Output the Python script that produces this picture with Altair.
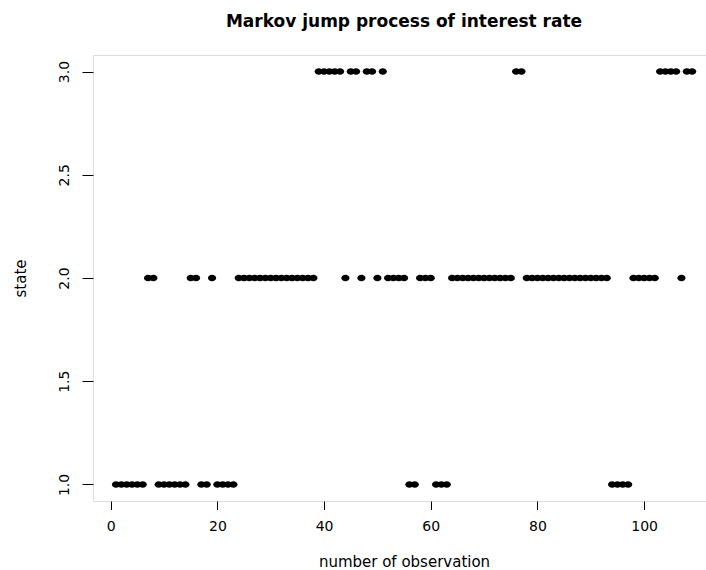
import altair as alt
import pandas as pd

# state sequence (observation 1..109), as runs
runs_state = [1, 2, 1, 2, 1, 2, 1, 2, 3, 2, 3, 2, 3, 2, 3, 2, 1, 2, 1, 2, 3, 2, 1, 2, 3, 2, 3]
runs_length = [6, 2, 6, 2, 2, 1, 4, 15, 5, 1, 2, 1, 2, 1, 1, 4, 2, 3, 3, 12, 2, 16, 4, 5, 4, 1, 2]

states = []
for s, n in zip(runs_state, runs_length):
    states.extend([s] * n)
observation = list(range(1, len(states) + 1))

x_ticks = [0, 20, 40, 60, 80, 100]
y_ticks = [1.0, 1.5, 2.0, 2.5, 3.0]

df = pd.DataFrame({"obs": observation, "state": states})

FONT = "DejaVu Sans"
DOT = "M -1 0 A 1 0.79 0 1 0 1 0 A 1 0.79 0 1 0 -1 0 Z"

chart = (
    alt.Chart(df)
    .mark_point(shape=DOT, filled=True, color="black", opacity=1, size=68, strokeWidth=0)
    .encode(
        x=alt.X(
            "obs:Q",
            scale=alt.Scale(domain=[-3.32, 111.6], nice=False, zero=False),
            axis=alt.Axis(
                values=x_ticks,
                title="number of observation",
                grid=False,
                domain=False,
                tickColor="black",
                tickSize=8.5,
                labelFontSize=14,
                labelFont=FONT,
                labelColor="black",
                labelPadding=10,
                titleFont=FONT,
                titleFontSize=15,
                titleFontWeight="normal",
                titleColor="black",
                titleAlign="center",
                titleBaseline="alphabetic",
                titleX=311,
                titleY=65,
            ),
        ),
        y=alt.Y(
            "state:Q",
            scale=alt.Scale(domain=[0.92, 3.08], nice=False, zero=False),
            axis=alt.Axis(
                values=y_ticks,
                format=".1f",
                title="state",
                grid=False,
                domain=False,
                tickColor="black",
                tickSize=11,
                labelFontSize=14,
                labelFont=FONT,
                labelColor="black",
                labelAngle=270,
                labelAlign="center",
                labelBaseline="bottom",
                labelPadding=11,
                titleFont=FONT,
                titleFontSize=15,
                titleFontWeight="normal",
                titleColor="black",
                titleAngle=270,
                titleAlign="center",
                titleBaseline="bottom",
                titleX=-65,
                titleY=223,
            ),
        ),
    )
    .properties(
        width=613,
        height=446,
        autosize=alt.AutoSizeParams(type="none"),
        padding={"left": 93, "top": 55, "right": 0, "bottom": 69},
        title=alt.TitleParams(
            "Markov jump process of interest rate",
            font=FONT,
            fontSize=17,
            fontWeight="bold",
            color="black",
            anchor="middle",
            baseline="alphabetic",
            dx=4.5,
            offset=11,
        ),
    )
    .configure_view(stroke="#222222", strokeWidth=1)
    .configure(background="white")
)

chart.save("out.html", embed_options={"renderer": "svg", "actions": False})
